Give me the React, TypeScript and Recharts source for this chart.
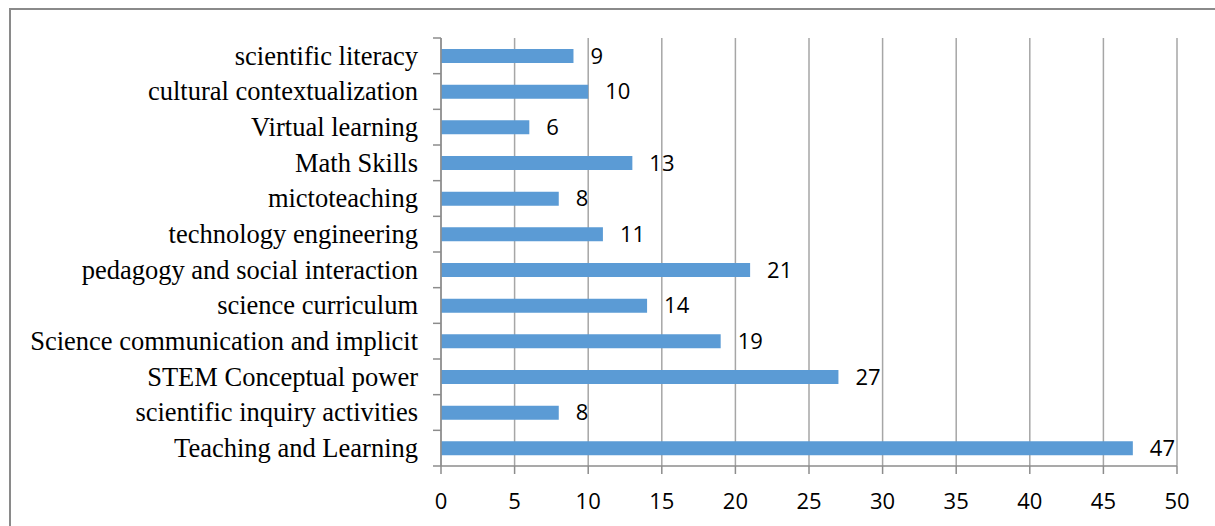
import React from "react";
import { BarChart, Bar, XAxis, YAxis, CartesianGrid, LabelList } from "recharts";

const categories = [
  "scientific literacy",
  "cultural contextualization",
  "Virtual learning",
  "Math Skills",
  "mictoteaching",
  "technology engineering",
  "pedagogy and social interaction",
  "science curriculum",
  "Science communication and implicit",
  "STEM Conceptual power",
  "scientific inquiry activities",
  "Teaching and Learning",
];
const values = [9, 10, 6, 13, 8, 11, 21, 14, 19, 27, 8, 47];
const xTicks = [0, 5, 10, 15, 20, 25, 30, 35, 40, 45, 50];

const data = categories.map((name, i) => ({ name, value: values[i] }));

const W = 1215;
const H = 526;
const PLOT_LEFT = 441;
const PLOT_RIGHT = 1177;
const PLOT_TOP = 38;
const PLOT_BOTTOM = 466;
const X_AXIS_H = 50;
const BAND = (PLOT_BOTTOM - PLOT_TOP) / categories.length;
const AXIS_COLOR = "#8c8c8c";
const GRID_COLOR = "#a6a6a6";

const YTick = (props: any) => {
  const { y, payload, index } = props;
  const isLast = index === categories.length - 1;
  return (
    <g>
      <line x1={PLOT_LEFT - 8} x2={PLOT_LEFT} y1={y - BAND / 2} y2={y - BAND / 2} stroke={AXIS_COLOR} strokeWidth={1.5} />
      {isLast && (
        <line x1={PLOT_LEFT - 8} x2={PLOT_LEFT} y1={y + BAND / 2} y2={y + BAND / 2} stroke={AXIS_COLOR} strokeWidth={1.5} />
      )}
      <text
        x={PLOT_LEFT - 23}
        y={y}
        dy="0.33em"
        textAnchor="end"
        fill="#000"
        style={{ fontFamily: "'Liberation Serif', 'Times New Roman', serif", fontSize: 26.5 }}
      >
        {payload.value}
      </text>
    </g>
  );
};

export default function App() {
  return (
    <div style={{ position: "absolute", left: 0, top: 0, width: W, height: H, overflow: "hidden", background: "#fff" }}>
      <div
        style={{
          position: "absolute",
          left: 9,
          top: 8,
          width: 1230,
          height: 540,
          border: "2px solid #8a8a8a",
          boxSizing: "border-box",
        }}
      />
      <div style={{ position: "absolute", left: 0, top: 0 }}>
        <BarChart
          width={W}
          height={H}
          data={data}
          layout="vertical"
          margin={{ top: PLOT_TOP, right: W - PLOT_RIGHT, bottom: H - PLOT_BOTTOM - X_AXIS_H, left: 0 }}
        >
          <CartesianGrid horizontal={false} vertical={true} stroke={GRID_COLOR} strokeWidth={1.5} />
          <XAxis
            type="number"
            domain={[0, 50]}
            ticks={xTicks}
            interval={0}
            height={X_AXIS_H}
            tickSize={8}
            tickMargin={19}
            axisLine={{ stroke: AXIS_COLOR, strokeWidth: 1.5 }}
            tickLine={{ stroke: AXIS_COLOR, strokeWidth: 1.5 }}
            tick={{ fill: "#000", fontSize: 22, fontFamily: "'Open Sans', sans-serif" }}
          />
          <YAxis
            type="category"
            dataKey="name"
            width={PLOT_LEFT}
            interval={0}
            tickLine={false}
            axisLine={{ stroke: AXIS_COLOR, strokeWidth: 1.5 }}
            tick={<YTick />}
          />
          <Bar dataKey="value" fill="#5b9bd5" barSize={14} isAnimationActive={false}>
            <LabelList
              dataKey="value"
              position="right"
              offset={17}
              fill="#000"
              style={{ fontFamily: "'Open Sans', sans-serif", fontSize: 22 }}
            />
          </Bar>
        </BarChart>
      </div>
    </div>
  );
}
